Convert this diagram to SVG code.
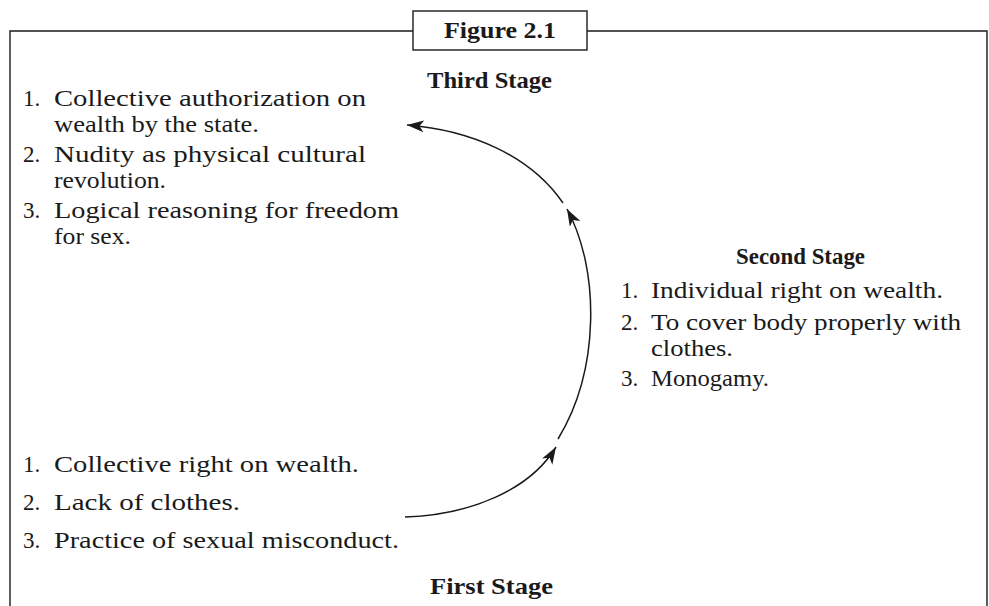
<svg xmlns="http://www.w3.org/2000/svg" width="989" height="606" viewBox="0 0 989 606">
<defs>
<marker id="ah" markerUnits="userSpaceOnUse" markerWidth="19" markerHeight="13" refX="17" refY="6" orient="auto">
<path d="M0,0 L17,6 L0,12 L4.5,6 z" fill="#1a1a1a"/>
</marker>
<style>
.t{font-family:"Liberation Serif","Times New Roman",serif;font-size:23px;fill:#1a1a1a;}
.b{font-family:"Liberation Serif","Times New Roman",serif;font-size:23px;font-weight:bold;fill:#1a1a1a;text-anchor:middle;}
.ln{fill:none;stroke:#1a1a1a;stroke-width:1.4;}
.c{fill:none;stroke:#1a1a1a;stroke-width:1.5;}
</style>
</defs>
<rect width="989" height="606" fill="#fff"/>
<g id="frame">
<path class="ln" d="M10,606 V31 H413 M587,31 H987 V606"/>
<rect class="ln" x="413" y="11" width="174" height="39" fill="#fff"/>
<text class="b" x="500" y="38" textLength="112" lengthAdjust="spacingAndGlyphs">Figure 2.1</text>
</g>
<g id="third-stage">
<text class="b" x="489.5" y="88" textLength="125" lengthAdjust="spacingAndGlyphs">Third Stage</text>
<text class="t" x="23" y="106">1.</text>
<text class="t" x="54" y="106" textLength="312" lengthAdjust="spacingAndGlyphs">Collective authorization on</text>
<text class="t" x="54" y="132" textLength="205" lengthAdjust="spacingAndGlyphs">wealth by the state.</text>
<text class="t" x="23" y="162">2.</text>
<text class="t" x="54" y="162" textLength="312" lengthAdjust="spacingAndGlyphs">Nudity as physical cultural</text>
<text class="t" x="54" y="188" textLength="112" lengthAdjust="spacingAndGlyphs">revolution.</text>
<text class="t" x="23" y="218">3.</text>
<text class="t" x="54" y="218" textLength="345" lengthAdjust="spacingAndGlyphs">Logical reasoning for freedom</text>
<text class="t" x="54" y="244" textLength="77" lengthAdjust="spacingAndGlyphs">for sex.</text>
</g>
<g id="second-stage">
<text class="b" x="800.5" y="264" textLength="129" lengthAdjust="spacingAndGlyphs">Second Stage</text>
<text class="t" x="621" y="298">1.</text>
<text class="t" x="651" y="298" textLength="292" lengthAdjust="spacingAndGlyphs">Individual right on wealth.</text>
<text class="t" x="621" y="330">2.</text>
<text class="t" x="651" y="330" textLength="310" lengthAdjust="spacingAndGlyphs">To cover body properly with</text>
<text class="t" x="651" y="356" textLength="82" lengthAdjust="spacingAndGlyphs">clothes.</text>
<text class="t" x="621" y="386">3.</text>
<text class="t" x="651" y="386" textLength="118" lengthAdjust="spacingAndGlyphs">Monogamy.</text>
</g>
<g id="first-stage">
<text class="t" x="23" y="472">1.</text>
<text class="t" x="54" y="472" textLength="305" lengthAdjust="spacingAndGlyphs">Collective right on wealth.</text>
<text class="t" x="23" y="510">2.</text>
<text class="t" x="54" y="510" textLength="186" lengthAdjust="spacingAndGlyphs">Lack of clothes.</text>
<text class="t" x="23" y="548">3.</text>
<text class="t" x="54" y="548" textLength="345" lengthAdjust="spacingAndGlyphs">Practice of sexual misconduct.</text>
<text class="b" x="491.5" y="594" textLength="123" lengthAdjust="spacingAndGlyphs">First Stage</text>
</g>
<g id="connectors">
<path class="c" d="M405,517 C470,515 530,490 556,447" marker-end="url(#ah)"/>
<path class="c" d="M558,439 C600,370 600,270 567,209" marker-end="url(#ah)"/>
<path class="c" d="M563,203 C530,155 470,130 407,125" marker-end="url(#ah)"/>
</g>
</svg>
